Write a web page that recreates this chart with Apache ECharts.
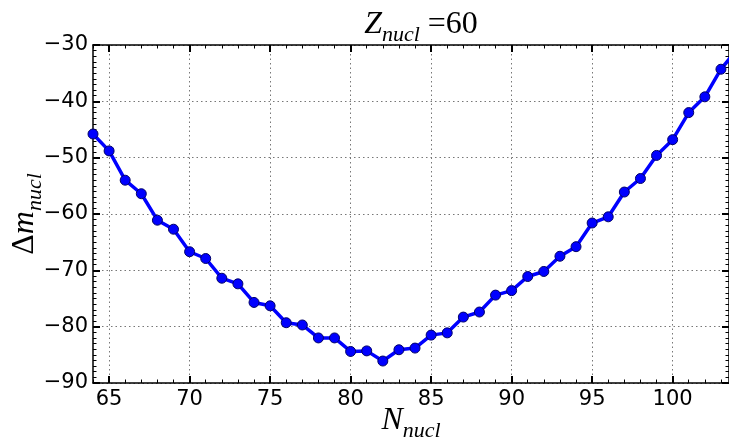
<!DOCTYPE html>
<html>
<head>
<meta charset="utf-8">
<script src="https://cdn.jsdelivr.net/npm/echarts@6/dist/echarts.min.js"></script>
<style>html,body{margin:0;padding:0;background:#fff}#c{width:729px;height:443px}</style>
</head>
<body>
<div id="c"></div>
<script>
const nValues = [64,65,66,67,68,69,70,71,72,73,74,75,76,77,78,79,80,81,82,83,84,85,86,87,88,89,90,91,92,93,94,95,96,97,98,99,100,101,102,103,104];
const dmValues = [-45.8,-48.8,-54.0,-56.4,-61.1,-62.7,-66.7,-67.9,-71.4,-72.4,-75.7,-76.3,-79.3,-79.7,-82.0,-82.0,-84.4,-84.3,-86.1,-84.1,-83.8,-81.5,-81.1,-78.3,-77.4,-74.4,-73.6,-71.1,-70.2,-67.5,-65.8,-61.6,-60.5,-56.1,-53.7,-49.6,-46.8,-42.0,-39.2,-34.3,-30.8];
const xTicks = [65,70,75,80,85,90,95,100];
const xMinorTicks = [64,65,66,67,68,69,70,71,72,73,74,75,76,77,78,79,80,81,82,83,84,85,86,87,88,89,90,91,92,93,94,95,96,97,98,99,100,101,102,103];
const yTicks = [-90,-80,-70,-60,-50,-40,-30];
const xMin = 64, xMax = 103.5, yMin = -90, yMax = -30;

const fmt = v => String(v).replace('-', '\u2212');
const labelFont = {fontFamily:'DejaVu Sans', fontSize:21, color:'#000'};
const serif = 'Liberation Serif';

const chart = echarts.init(document.getElementById('c'), null, {renderer:'canvas'});

function xAxisDef(pos, major, showLabel, showSplit) {
  return {
    type:'value', position:pos, min:xMin, max:xMax, gridIndex:0,
    axisLine:{show:major, onZero:false, lineStyle:{color:'#000', width:1.5}},
    axisTick:{show:true, inside:true, customValues: major ? xTicks : xMinorTicks,
      length: major ? 7 : 3.5, lineStyle:{color:'#000', width: major ? 2 : 1}},
    axisLabel:{show:showLabel, customValues:xTicks, formatter:fmt, margin:6, ...labelFont},
    splitLine:{show:showSplit, lineStyle:{color:'#777', type:[1.5,3], width:1}},
    minorTick:{show:false}
  };
}

const sub = {fontFamily:serif, fontStyle:'italic', fontWeight:'normal', fontSize:22, color:'#000', verticalAlign:'top', padding:[15,0,0,0]};
const big = (italic) => ({fontFamily:serif, fontStyle: italic ? 'italic' : 'normal', fontWeight:'normal', fontSize:32, color:'#000', verticalAlign:'top', lineHeight:32});

chart.setOption({
  animation:false,
  title:{
    text:'{z|Z}{s|nucl}{e| =60}',
    left:416, top:4, textAlign:'center',
    textStyle:{fontWeight:'normal', rich:{ z:big(true), s:sub, e:big(false) }}
  },
  grid:{left:93, right:0, top:45, bottom:60, containLabel:false, outerBoundsMode:'none'},
  xAxis:[
    xAxisDef('bottom', false, false, false),
    Object.assign(xAxisDef('bottom', true, true, true), {
      name:'{n|N}{s|nucl}', nameLocation:'middle', nameGap:22, nameMoveOverlap:false,
      nameTextStyle:{rich:{ n:big(true), s:sub }}
    }),
    xAxisDef('top', false, false, false),
    xAxisDef('top', true, false, false)
  ],
  yAxis:[
    {
      type:'value', position:'left', min:yMin, max:yMax, interval:10,
      axisLine:{show:true, onZero:false, lineStyle:{color:'#000', width:1.5}},
      axisTick:{show:true, inside:true, customValues:yTicks, length:7, lineStyle:{color:'#000', width:2}},
      minorTick:{show:true, splitNumber:10, length:3.5, lineStyle:{color:'#000', width:1}},
      axisLabel:{customValues:yTicks, formatter:fmt, margin:5, ...labelFont},
      splitLine:{show:true, lineStyle:{color:'#777', type:[1.5,3], width:1}},
      name:'{u|\u0394}{d|m}{s|nucl}', nameLocation:'middle', nameGap:47, nameRotate:90, nameMoveOverlap:false,
      nameTextStyle:{rich:{ u:big(false), d:big(true), s:sub }}
    },
    {
      type:'value', position:'right', min:yMin, max:yMax, interval:10,
      axisLine:{show:true, onZero:false, lineStyle:{color:'#000', width:1.5}},
      axisTick:{show:true, inside:true, length:7, lineStyle:{color:'#000', width:2}},
      minorTick:{show:true, splitNumber:10, length:3.5, lineStyle:{color:'#000', width:1}},
      axisLabel:{show:false},
      splitLine:{show:false}
    }
  ],
  series:[{
    type:'line', xAxisIndex:0, yAxisIndex:0,
    data:nValues.map((n,i)=>[n, dmValues[i]]),
    symbol:'circle', symbolSize:10, clip:true,
    lineStyle:{color:'#0000ff', width:3.5},
    itemStyle:{color:'#0000ff', borderColor:'#000066', borderWidth:1}
  }]
});
</script>
</body>
</html>
